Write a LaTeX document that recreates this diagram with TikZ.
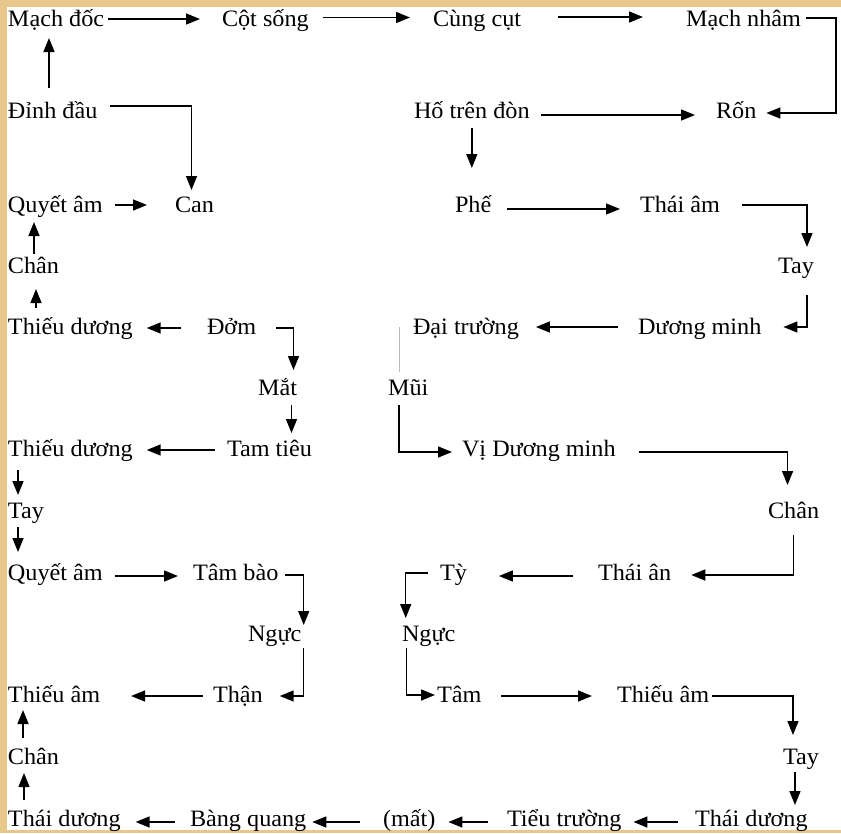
\documentclass[tikz,border=0pt]{standalone}
\usepackage{fontspec}
\setmainfont{Liberation Serif}[FakeStretch=1.03]
\usetikzlibrary{calc,arrows.meta}
\definecolor{parch}{RGB}{231,200,138}
\begin{document}
\begin{tikzpicture}[x=1pt,y=-1pt,
  lbl/.style={anchor=base west, inner sep=0pt, outer sep=0pt, text height=14pt, text depth=2pt, font=\fontsize{23.5}{27}\selectfont},
  arr/.style={line width=1.5pt, -{Triangle[length=14pt,width=11pt]}},
  faint/.style={draw=gray!55, line width=0.8pt}]
\useasboundingbox (0,0) rectangle (841,833);
\fill[parch] (0,0) rectangle (841,833);
\fill[white] (7,7) rectangle (841,830);
% row 0
\node[lbl] (md) at (8,26) {Mạch đốc};
\node[lbl] (cs) at (222,26) {Cột sống};
\node[lbl] (cc) at (433,26) {Cùng cụt};
\node[lbl] (mn) at (686,26) {Mạch nhâm};
% row 1
\node[lbl] (dd) at (8,118) {Đỉnh đầu};
\node[lbl] (htd) at (414,118) {Hố trên đòn};
\node[lbl] (ron) at (716,118) {Rốn};
% row 2
\node[lbl] (qa1) at (8,212) {Quyết âm};
\node[lbl] (can) at (175,212) {Can};
\node[lbl] (phe) at (455,212) {Phế};
\node[lbl] (tam1) at (640,212) {Thái âm};
% row 3
\node[lbl] (chan1) at (8,273) {Chân};
\node[lbl] (tay1) at (778,273) {Tay};
% row 4
\node[lbl] (td1) at (8,334) {Thiếu dương};
\node[lbl] (dom) at (207,334) {Đởm};
\node[lbl] (dtr) at (413,334) {Đại trường};
\node[lbl] (dm) at (638,334) {Dương minh};
% row 5
\node[lbl] (mat) at (258,395) {Mắt};
\node[lbl] (mui) at (388,395) {Mũi};
% row 6
\node[lbl] (td2) at (8,456) {Thiếu dương};
\node[lbl] (tt) at (227,456) {Tam tiêu};
\node[lbl] (vdm) at (462,456) {Vị Dương minh};
% row 7
\node[lbl] (tay2) at (8,518) {Tay};
\node[lbl] (chan2) at (768,518) {Chân};
% row 8
\node[lbl] (qa2) at (8,580) {Quyết âm};
\node[lbl] (tb) at (193,580) {Tâm bào};
\node[lbl] (ty) at (440,580) {Tỳ};
\node[lbl] (tan) at (598,580) {Thái ân};
% row 9
\node[lbl] (ng1) at (248,641) {Ngực};
\node[lbl] (ng2) at (402,641) {Ngực};
% row 10
\node[lbl] (ta1) at (8,702) {Thiếu âm};
\node[lbl] (than) at (213,702) {Thận};
\node[lbl] (tam) at (437,702) {Tâm};
\node[lbl] (ta2) at (617,702) {Thiếu âm};
% row 11
\node[lbl] (chan3) at (8,764) {Chân};
\node[lbl] (tay3) at (783,764) {Tay};
% row 12
\node[lbl] (tdu1) at (8,826) {Thái dương};
\node[lbl] (bq) at (190,826) {Bàng quang};
\node[lbl] (mat2) at (383,826) {(mất)};
\node[lbl] (tru) at (507,826) {Tiểu trường};
\node[lbl] (tdu2) at (695,826) {Thái dương};

% connectors, top
\draw[arr,shorten <=4pt,shorten >=22pt] ([yshift=1pt]md.east) -- ([yshift=1pt]cs.west);
\draw[arr,shorten <=14pt,shorten >=23pt] ([yshift=2.5pt]cs.east) -- ([yshift=2.5pt]cc.west);
\draw[arr,shorten <=37pt,shorten >=43pt] ([yshift=3pt]cc.east) -- ([yshift=3pt]mn.west);
\draw[arr] ($(mn.east)+(5,-2)$) -- ($(mn.east)+(35,-2)$) |- ($(ron.east)+(10,1)$);
\draw[arr] ($(dd.north west)+(41,-16)$) -- ($(md.south west)+(41,10)$);
\draw[arr] ($(dd.east)+(13,-6)$) -| ($(can.north)+(-3,-8)$);
\draw[arr,shorten <=11pt,shorten >=21pt] ([yshift=-3pt]htd.east) -- ([yshift=-3pt]ron.west);
\draw[arr] ($(htd.south)+(0,8)$) -- ($(htd.south |- phe.north)+(0,-30)$);
% row 2 - 4
\draw[arr,shorten <=12pt,shorten >=28pt] ([yshift=1pt]qa1.east) -- ([yshift=1pt]can.west);
\draw[arr,shorten <=16pt,shorten >=20pt] ([yshift=-3pt]phe.east) -- ([yshift=-3pt]tam1.west);
\draw[arr] ($(tam1.east)+(22,-1)$) -| ($(tay1.north)+(11,-12)$);
\draw[arr] ($(tay1.south)+(11,20)$) |- ($(dm.east)+(22,-1)$);
\draw[arr,shorten <=20pt,shorten >=17pt] ([yshift=1pt]dm.west) -- ([yshift=1pt]dtr.east);
\draw[arr] ($(chan1.north west)+(26,-5)$) -- ($(qa1.south west)+(26,8)$);
\draw[arr] ($(td1.north west)+(28,-12)$) -- ($(chan1.south west)+(28,14)$);
\draw[arr,shorten <=26pt,shorten >=14pt] (dom.west) -- (td1.east);
% left middle
\draw[arr] ($(dom.east)+(20,0)$) -| ($(mat.north)+(16,-11)$);
\draw[arr] ($(mat.south)+(14,8)$) -- ($(mat.south)+(14,36)$);
\draw[arr,shorten <=12pt,shorten >=14pt] (tt.west) -- (td2.east);
\draw[arr] ($(td2.south west)+(10,12)$) -- ($(tay2.north west)+(10,-9)$);
\draw[arr] ($(tay2.south west)+(10,7)$) -- ($(qa2.north west)+(10,-14)$);
\draw[arr,shorten <=12pt,shorten >=15pt] ([yshift=-2pt]qa2.east) -- ([yshift=-2pt]tb.west);
\draw[arr] ($(tb.east)+(7,1)$) -| ($(ng1.north)+(29,-2)$);
\draw[arr] ($(ng1.south)+(29,5)$) |- ($(than.east)+(17,0)$);
\draw[arr,shorten <=10pt,shorten >=31pt] (than.west) -- (ta1.east);
\draw[arr] ($(chan3.north west)+(15,-12)$) -- ($(ta1.south west)+(15,6)$);
\draw[arr] ($(tdu1.north west)+(16,-12)$) -- ($(chan3.south west)+(16,7)$);
% bottom row
\draw[arr,shorten <=15pt,shorten >=15pt] ([yshift=-2pt]bq.west) -- ([yshift=-2pt]tdu1.east);
\draw[arr,shorten <=23pt,shorten >=6pt] ([yshift=-2pt]mat2.west) -- ([yshift=-2pt]bq.east);
\draw[arr,shorten <=19pt,shorten >=13pt] ([yshift=-2pt]tru.west) -- ([yshift=-2pt]mat2.east);
\draw[arr,shorten <=17pt,shorten >=12pt] ([yshift=-2pt]tdu2.west) -- ([yshift=-2pt]tru.east);
% right middle
\draw[faint] ($(mui.north west)+(11,-54)$) -- ($(mui.north west)+(11,-9)$);
\draw[arr] ($(mui.south west)+(11,8)$) |- ($(vdm.west)+(-10,2)$);
\draw[arr] ($(vdm.east)+(23,2)$) -| ($(chan2.north)+(-6,-19)$);
\draw[arr] ($(chan2.south)+(0,15)$) |- ($(tan.east)+(20,1)$);
\draw[arr,shorten <=25pt,shorten >=32pt] ([yshift=-2pt]tan.west) -- ([yshift=-2pt]ty.east);
\draw[arr] ($(ty.west)+(-12,-1)$) -| ($(ng2.north)+(-23,-9)$);
\draw[arr] ($(ng2.south)+(-22,5)$) |- ($(tam.west)+(-2,-1)$);
\draw[arr,shorten <=20pt,shorten >=25pt] (tam.east) -- (ta2.west);
\draw[arr] ($(ta2.east)+(3,0)$) -| ($(tay3.north)+(-8,-15)$);
\draw[arr] ($(tay3.south)+(-6,6)$) -- ($(tay3.south)+(-6,39)$);
\end{tikzpicture}
\end{document}
